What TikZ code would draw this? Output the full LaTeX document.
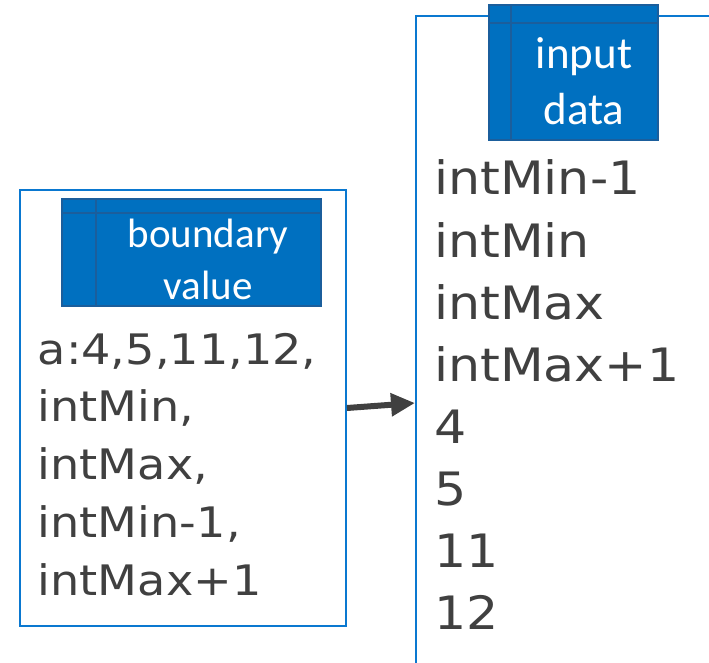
\documentclass[tikz,border=0pt]{standalone}
\usepackage{fontspec}
\usetikzlibrary{arrows.meta}
\newfontfamily\bodyfont[FakeStretch=1.1]{DejaVu Sans}
\newfontfamily\headfont{Carlito}
\definecolor{frameblue}{HTML}{0A78D0}
\definecolor{headfill}{HTML}{0070C0}
\definecolor{headedge}{HTML}{1B5E9C}
\definecolor{ink}{HTML}{404040}
\tikzset{
  frame/.style={draw=frameblue, line width=2pt, inner sep=0pt, outer sep=0pt},
  hdr/.style={draw=headedge, fill=headfill, line width=2pt, inner sep=0pt, outer sep=0pt, anchor=north west},
  hdrline/.style={draw=headedge, line width=2pt},
  hdrtextL/.style={text=white, font=\headfont\fontsize{41}{52}\selectfont, anchor=base, inner sep=0pt},
  hdrtextR/.style={text=white, font=\headfont\fontsize{45}{56}\selectfont, anchor=base, inner sep=0pt},
  bodyL/.style={text=ink, font=\bodyfont\fontsize{42}{56}\selectfont, anchor=base west, inner sep=0pt},
  bodyR/.style={text=ink, font=\bodyfont\fontsize{46}{62}\selectfont, anchor=base west, inner sep=0pt},
  flow/.style={draw=ink, line width=6pt, -{Triangle[length=24pt,width=22pt]}}
}
\begin{document}
\begin{tikzpicture}[x=1pt, y=-1pt]
\useasboundingbox (0,0) rectangle (709,663);

% left box with its header
\node[frame, anchor=north west, minimum width=326pt, minimum height=436pt] (lbox) at (20,190) {};
\node[hdr, minimum width=259pt, minimum height=106pt] (lhead) at (62,199.5) {};
\draw[hdrline] ([yshift=-13.2pt]lhead.north west) -- ([yshift=-13.2pt]lhead.north east);
\draw[hdrline] ([xshift=33.5pt]lhead.north west) -- ([xshift=33.5pt]lhead.south west);
\node[hdrtextL] (lh1) at (208,247.5) {boundary};
\node[hdrtextL] (lh2) at (208,299.5) {value};

\foreach \t [count=\i] in {{a:4,5,11,12,},{intMin,},{intMax,},{intMin-1,},{intMax+1}}
  \node[bodyL] (l\i) at (37.5,364+57.75*\i-57.75) {\t};

% right box, open on the right and at the bottom
\draw[frameblue, line width=2pt] (709,16) -- (416,16) -- (416,663);
\node[hdr, minimum width=168.5pt, minimum height=135.5pt] (rhead) at (489.3,4.7) {};
\draw[hdrline] ([yshift=-18pt]rhead.north west) -- ([yshift=-18pt]rhead.north east);
\draw[hdrline] ([xshift=21.4pt]rhead.north west) -- ([xshift=21.4pt]rhead.south west);
\node[hdrtextR] (rh1) at (584,68.3) {input};
\node[hdrtextR] (rh2) at (584,125) {data};

\foreach \t [count=\i] in {intMin-1,intMin,intMax,intMax+1,4,5,11,12}
  \node[bodyR] (r\i) at (434,195+62*\i-62) {\t};

% connector
\coordinate (rin) at (415,403);
\draw[flow] ([xshift=1pt]lbox.east) -- (rin);
\end{tikzpicture}
\end{document}
